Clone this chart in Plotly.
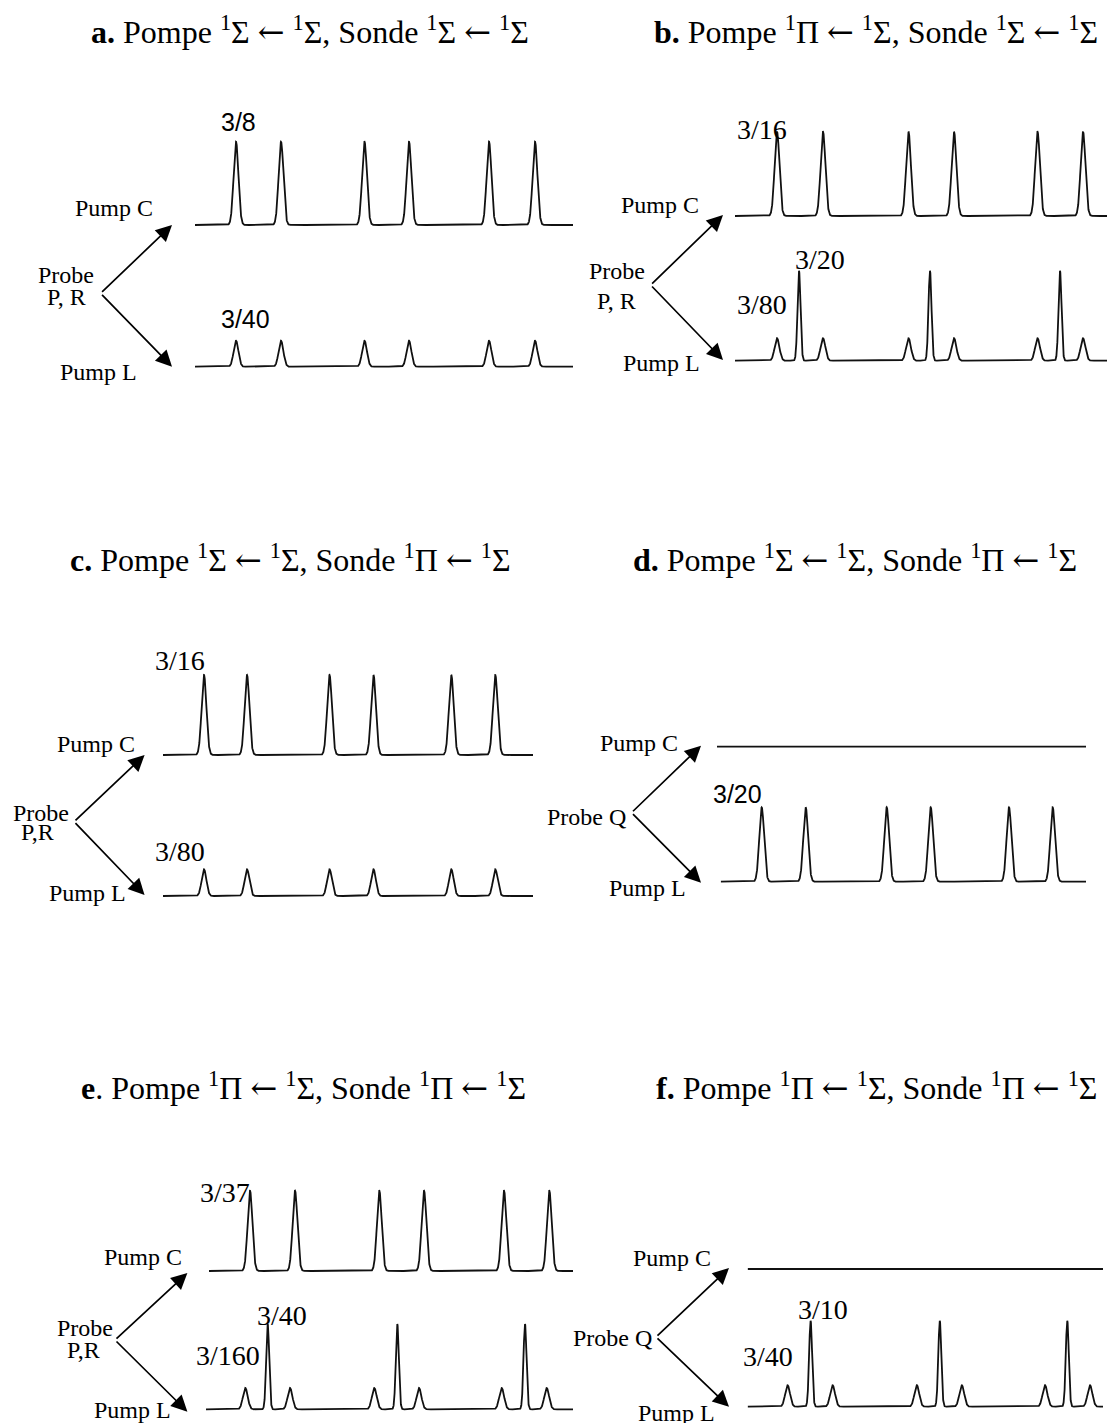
import numpy as np
import plotly.graph_objects as go

W, H = 1115, 1423
OFF = 8                      # default page margin of the html body
FW, FH = W - OFF, H - OFF    # figure size

# ---- spectra data: line positions (% of trace span) and relative intensities ----
a_pos = [10.85, 22.75, 44.84, 56.61, 77.78, 89.95]
a_pumpC = [3/8, 3/8, 3/8, 3/8, 3/8, 3/8]
a_pumpL = [3/40, 3/40, 3/40, 3/40, 3/40, 3/40]

b_posC = [11.14, 23.34, 46.02, 58.09, 80.24, 92.31]
b_pumpC = [3/16, 3/16, 3/16, 3/16, 3/16, 3/16]
b_posL = [11.14, 16.98, 23.34, 46.02, 51.72, 58.09, 80.24, 86.21, 92.31]
b_pumpL = [3/80, 3/20, 3/80, 3/80, 3/20, 3/80, 3/80, 3/20, 3/80]

c_pos = [11.08, 22.70, 45.00, 56.89, 77.92, 89.81]
c_pumpC = [3/16, 3/16, 3/16, 3/16, 3/16, 3/16]
c_pumpL = [3/80, 3/80, 3/80, 3/80, 3/80, 3/80]

d_pos = [11.22, 23.27, 45.44, 57.49, 78.92, 90.88]
d_pumpC = [0, 0, 0, 0, 0, 0]
d_pumpL = [3/20, 3/20, 3/20, 3/20, 3/20, 3/20]

e_posC = [11.26, 23.63, 46.79, 59.07, 81.04, 93.49]
e_pumpC = [3/37, 3/37, 3/37, 3/37, 3/37, 3/37]
e_posL = [10.71, 16.81, 22.89, 45.86, 52.13, 58.04, 80.57, 86.92, 92.83]
e_pumpL = [3/160, 3/40, 3/160, 3/160, 3/40, 3/160, 3/160, 3/40, 3/160]

f_posL = [11.25, 17.73, 23.92, 47.61, 54.08, 60.27, 83.68, 89.95, 96.34]
f_pumpC = [0, 0, 0, 0, 0, 0, 0, 0, 0]
f_pumpL = [3/40, 3/10, 3/40, 3/40, 3/10, 3/40, 3/40, 3/10, 3/40]

# ---- layout of each trace strip: x0, x1, baseline y, peak-top y, intensity at top (pixels) ----
strips = [
    (a_pos, a_pumpC, 195, 573, 225, 141.7, 3/8),
    (a_pos, a_pumpL, 195, 573, 366.7, 340.7, 3/40),
    (b_posC, b_pumpC, 735, 1112, 216, 131.7, 3/16),
    (b_posL, b_pumpL, 735, 1112, 360.7, 270.7, 3/20),
    (c_pos, c_pumpC, 163, 533, 755, 675, 3/16),
    (c_pos, c_pumpL, 163, 533, 896, 869.3, 3/80),
    (d_pos, d_pumpC, 717, 1086, 746.7, 666.7, 1),
    (d_pos, d_pumpL, 720.7, 1086, 881.7, 807.3, 3/20),
    (e_posC, e_pumpC, 209, 573, 1271, 1190.7, 3/37),
    (e_posL, e_pumpL, 206, 573, 1409.3, 1324, 3/40),
    (f_posL, f_pumpC, 747.6, 1103, 1269, 1189, 1),
    (f_posL, f_pumpL, 747.6, 1103, 1406.7, 1320.7, 3/10),
]

fig = go.Figure()
xg = np.linspace(0, 100, 4001)
pad = 6
layout = {}
for i, (pos, amp, x0, x1, yb, yt, ref) in enumerate(strips, start=1):
    big = max(amp) if max(amp) > 0 else 1
    span = x1 - x0
    y = np.zeros_like(xg)
    for p, a in zip(pos, amp):
        # strong central lines are sharper spikes
        s_px = 1.5 if (a == big and min(amp) < big) else 2.4
        s = s_px / span * 100
        y += a * np.exp(-0.5 * ((xg - p) / s) ** 2)
    fig.add_trace(go.Scatter(x=xg, y=y, mode="lines",
                             line=dict(color="#111111", width=1.8),
                             hoverinfo="skip", showlegend=False,
                             xaxis=f"x{i}", yaxis=f"y{i}"))
    ppu = (yb - yt) / ref
    xk = "xaxis" if i == 1 else f"xaxis{i}"
    yk = "yaxis" if i == 1 else f"yaxis{i}"
    layout[xk] = dict(domain=[(x0 - OFF) / FW, min(1, (x1 - OFF) / FW)], range=[0, 100],
                      visible=False, anchor=f"y{i}")
    layout[yk] = dict(domain=[(FH - (yb - OFF + pad)) / FH, (FH - (yt - OFF - pad)) / FH],
                      range=[-pad / ppu, ref + pad / ppu], visible=False,
                      anchor=f"x{i}")
fig.update_layout(**layout)


def P(x, y):
    return (x - OFF) / FW, 1 - (y - OFF) / FH


ann = []
serif = "Liberation Serif"
arr = '<span style="font-family:DejaVu Serif">←</span>'
S = "<sup>1</sup>Σ"
Pi = "<sup>1</sup>Π"

titles = [
    (f"<b>a.</b> Pompe {S} {arr} {S}, Sonde {S} {arr} {S}", 310, 31),
    (f"<b>b.</b> Pompe {Pi} {arr} {S}, Sonde {S} {arr} {S}", 876, 31),
    (f"<b>c.</b> Pompe {S} {arr} {S}, Sonde {Pi} {arr} {S}", 290, 558),
    (f"<b>d.</b> Pompe {S} {arr} {S}, Sonde {Pi} {arr} {S}", 855, 558),
    (f"<b>e</b>. Pompe {Pi} {arr} {S}, Sonde {Pi} {arr} {S}", 303, 1086),
    (f"<b>f.</b> Pompe {Pi} {arr} {S}, Sonde {Pi} {arr} {S}", 876, 1086),
]
for t, x, y in titles:
    px, py = P(x, y)
    ann.append(dict(text=t, x=px, y=py, xref="paper", yref="paper", xanchor="center",
                    yanchor="middle", showarrow=False,
                    font=dict(family=serif, size=32, color="black")))

side_labels = [
    ("Pump C", 114, 208), ("Probe", 65.5, 275), ("P, R", 66, 297), ("Pump L", 98, 372),
    ("Pump C", 660, 205), ("Probe", 617, 271), ("P, R", 616, 301), ("Pump L", 661, 363),
    ("Pump C", 96, 744), ("Probe", 41, 813), ("P,R", 37, 832), ("Pump L", 87.5, 893),
    ("Pump C", 639, 743), ("Probe Q", 586, 817), ("Pump L", 647, 888),
    ("Pump C", 142.5, 1257), ("Probe", 85, 1328), ("P,R", 83.5, 1350), ("Pump L", 132, 1410),
    ("Pump C", 672, 1258), ("Probe Q", 612, 1338), ("Pump L", 676, 1413),
]
for t, x, y in side_labels:
    px, py = P(x, y)
    ann.append(dict(text=t, x=px, y=py, xref="paper", yref="paper", xanchor="center",
                    yanchor="middle", showarrow=False,
                    font=dict(family=serif, size=24, color="black")))

ratio_labels = [
    ("3/8", 219, 122, "Liberation Sans", 25),
    ("3/40", 219, 319, "Liberation Sans", 25),
    ("3/16", 735, 130, serif, 28),
    ("3/20", 793, 259, serif, 28),
    ("3/80", 735, 304, serif, 28),
    ("3/16", 153, 660, serif, 28),
    ("3/80", 153, 852, serif, 28),
    ("3/20", 711, 794, "Liberation Sans", 25),
    ("3/37", 198, 1192, serif, 28),
    ("3/40", 255, 1315, serif, 28),
    ("3/160", 194, 1355, serif, 28),
    ("3/10", 796, 1309, serif, 28),
    ("3/40", 741, 1356, serif, 28),
]
for t, x, y, fam, sz in ratio_labels:
    px, py = P(x, y)
    ann.append(dict(text=t, x=px, y=py, xref="paper", yref="paper", xanchor="left",
                    yanchor="middle", showarrow=False,
                    font=dict(family=fam, size=sz, color="black")))

# arrows: vertex, tip up, tip down
arrows = [
    ((100.6, 293.3), (172, 225), (172, 366.7)),
    ((650.6, 285), (723, 215), (723, 360)),
    ((74, 821.7), (144.6, 755), (144.6, 895)),
    ((631.5, 812.7), (701, 745.7), (701, 882.7)),
    ((115, 1340), (187.4, 1273), (187.4, 1411.7)),
    ((656, 1337), (729, 1268), (729, 1406.7)),
]
for v, up, dn in arrows:
    for tip in (up, dn):
        px, py = P(*tip)
        ann.append(dict(text="", x=px, y=py, xref="paper", yref="paper",
                        ax=v[0] - tip[0], ay=v[1] - tip[1], axref="pixel", ayref="pixel",
                        showarrow=True, arrowhead=2, arrowsize=1.9, arrowwidth=1.7,
                        arrowcolor="black", standoff=0, startstandoff=0))

fig.update_layout(width=FW, height=FH, margin=dict(l=0, r=0, t=0, b=0),
                  paper_bgcolor="white", plot_bgcolor="white", annotations=ann)
fig.write_html("out.html")
